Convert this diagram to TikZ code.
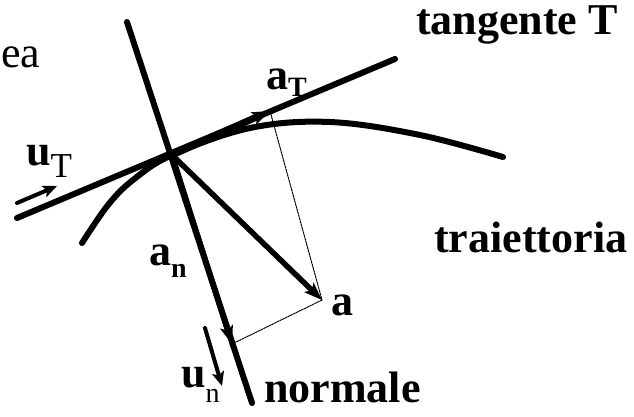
\documentclass[tikz,border=0pt]{standalone}
\usepackage{fontspec}
\setmainfont{Liberation Serif}
\usetikzlibrary{arrows.meta}
\newcommand{\bigb}{\fontsize{44}{48}\selectfont\bfseries}
\newcommand{\subb}[2]{\raisebox{-#1pt}{\fontsize{28}{30}\selectfont\bfseries #2}}
\newcommand{\subr}[3]{\raisebox{-#1pt}{\fontsize{#3}{30}\selectfont\mdseries #2}}
\begin{document}
\begin{tikzpicture}[x=1pt,y=-1pt,line cap=round,
  thickline/.style={line width=6pt},
  vec/.style={line width=5.5pt,-{Stealth[length=18pt,width=13pt,inset=4pt]}},
  unitvec/.style={line width=4pt,-{Stealth[length=14pt,width=12pt,inset=3pt]}},
  proj/.style={line width=1pt,dash pattern=on 2pt off 1pt},
  lbl/.style={inner sep=0pt,anchor=base west,font=\bigb}]
\useasboundingbox (0,0) rectangle (634,417);
% points
\coordinate (P) at (172,155);
\coordinate (TL) at (17,218);
\coordinate (TR) at (395,59);
\coordinate (NT) at (127,22);
\coordinate (NB) at (252,403);
\coordinate (AT) at (270,111);
\coordinate (AA) at (322,300);
\coordinate (AN) at (232,344);
\coordinate (UTs) at (17,203);
\coordinate (UTe) at (57,186);
\coordinate (UNs) at (205,328);
\coordinate (UNe) at (222,386);
% trajectory
\draw[thickline] plot[smooth,tension=0.6] coordinates
  {(82,243) (108,205) (133,180) (172,155) (250,128) (330,122) (420,135) (503,157)};
% tangent and normal lines
\draw[thickline] (TL) -- (TR);
\draw[thickline] (NT) -- (NB);
% projections
\draw[proj] (AT) -- (AA);
\draw[proj] (AA) -- (AN);
% vectors
\draw[vec,line width=7pt] (P) -- (AT);
\draw[vec] (P) -- (AA);
\draw[vec] (P) -- (AN);
\draw[unitvec] (UTs) -- (UTe);
\draw[unitvec] (UNs) -- (UNe);
% labels
\node[inner sep=0pt,anchor=base west,font=\fontsize{44}{48}\selectfont] (ea) at (1,68) {ea};
\node[lbl] (tang) at (416,35) {tangente T};
\node[lbl] (traj) at (434,252) {traiettoria};
\node[lbl] (norm) at (264,402) {normale};
\node[lbl] (la) at (331,315) {a};
\node[lbl] (laT) at (266,90) {a\subb{7}{T}};
\node[lbl] (lan) at (149,265) {a\subb{12}{n}};
\node[lbl] (luT) at (26,165) {u\subr{12}{T}{35}};
\node[lbl] (lun) at (181,387) {u\subr{15}{n}{28}};
\end{tikzpicture}
\end{document}
